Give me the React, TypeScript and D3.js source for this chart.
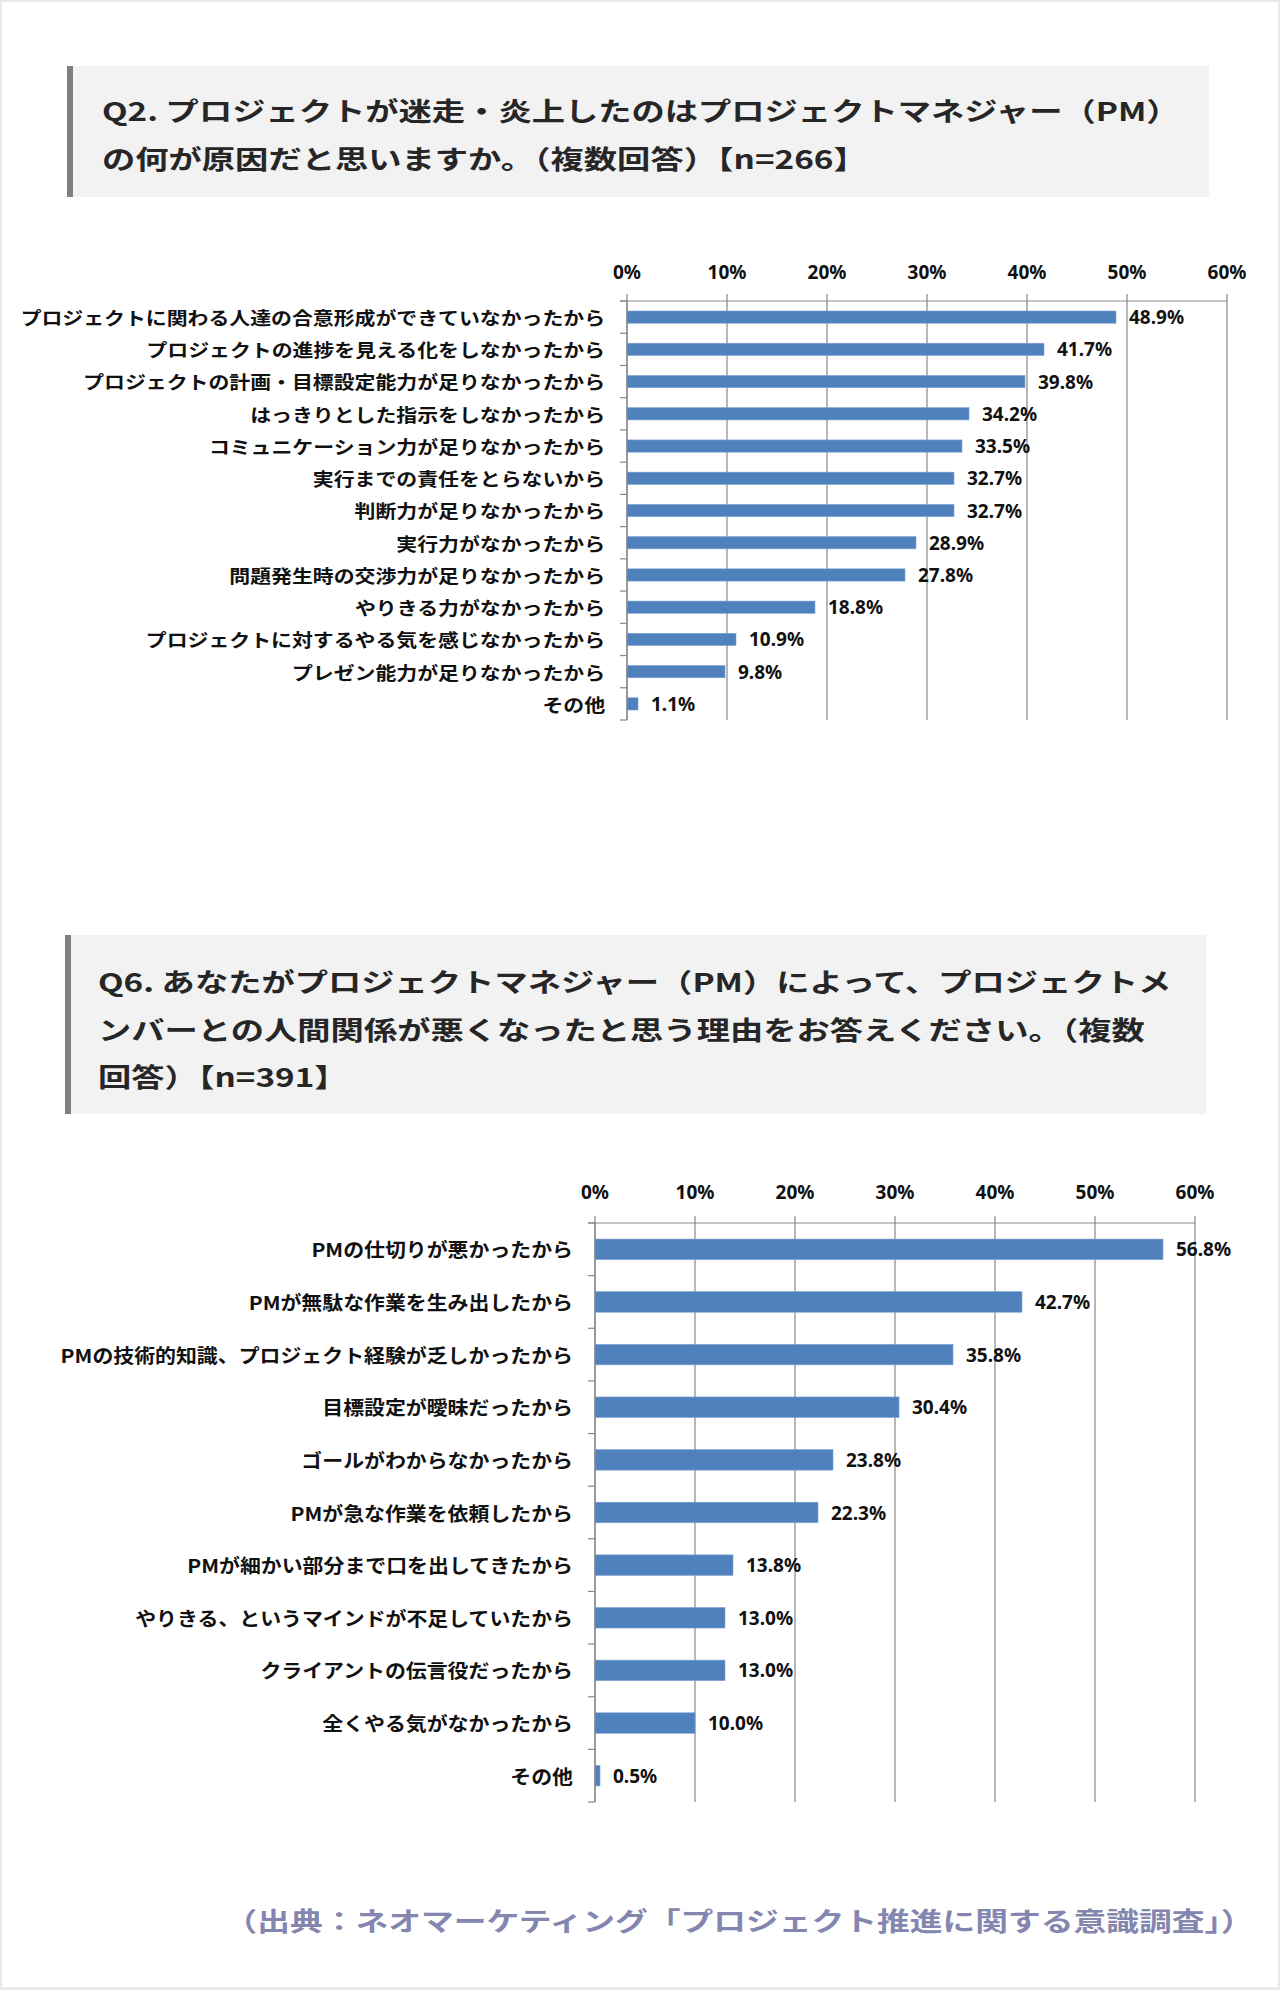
import React from "react";
import * as d3 from "d3";

const q2Title = [
  "Q2. プロジェクトが迷走・炎上したのはプロジェクトマネジャー（PM）",
  "の何が原因だと思いますか。（複数回答）【n=266】",
];
const q2Categories = [
  "プロジェクトに関わる人達の合意形成ができていなかったから",
  "プロジェクトの進捗を見える化をしなかったから",
  "プロジェクトの計画・目標設定能力が足りなかったから",
  "はっきりとした指示をしなかったから",
  "コミュニケーション力が足りなかったから",
  "実行までの責任をとらないから",
  "判断力が足りなかったから",
  "実行力がなかったから",
  "問題発生時の交渉力が足りなかったから",
  "やりきる力がなかったから",
  "プロジェクトに対するやる気を感じなかったから",
  "プレゼン能力が足りなかったから",
  "その他",
];
const q2Values = [48.9, 41.7, 39.8, 34.2, 33.5, 32.7, 32.7, 28.9, 27.8, 18.8, 10.9, 9.8, 1.1];

const q6Title = [
  "Q6. あなたがプロジェクトマネジャー（PM）によって、プロジェクトメ",
  "ンバーとの人間関係が悪くなったと思う理由をお答えください。（複数",
  "回答）【n=391】",
];
const q6Categories = [
  "PMの仕切りが悪かったから",
  "PMが無駄な作業を生み出したから",
  "PMの技術的知識、プロジェクト経験が乏しかったから",
  "目標設定が曖昧だったから",
  "ゴールがわからなかったから",
  "PMが急な作業を依頼したから",
  "PMが細かい部分まで口を出してきたから",
  "やりきる、というマインドが不足していたから",
  "クライアントの伝言役だったから",
  "全くやる気がなかったから",
  "その他",
];
const q6Values = [56.8, 42.7, 35.8, 30.4, 23.8, 22.3, 13.8, 13.0, 13.0, 10.0, 0.5];

const tickValues = [0, 10, 20, 30, 40, 50, 60];
const sourceText = "（出典：ネオマーケティング「プロジェクト推進に関する意識調査」）";

const JP = "'Noto Sans CJK JP', 'Noto Sans', sans-serif";
const NUM = "'Noto Sans', 'Open Sans', sans-serif";
const GRID = "#878787";
const BAR = "#4f81bd";

type ChartProps = {
  cats: string[];
  vals: number[];
  x0: number;
  x1: number;
  y0: number;
  y1: number;
  pad: number;
  labelSize: number;
  labelSX: number;
  numSize: number;
  tickY: number;
};

function Chart(p: ChartProps) {
  const x = d3.scaleLinear().domain([0, 60]).range([p.x0, p.x1]);
  const y = d3
    .scaleBand<string>()
    .domain(p.cats)
    .range([p.y0, p.y1])
    .paddingInner(p.pad)
    .paddingOuter(p.pad / 2);
  const step = y.step();
  const bounds = d3.range(p.cats.length + 1).map((i) => p.y0 + i * step);
  return (
    <g>
      <line x1={p.x0 - 7} x2={p.x1} y1={p.y0} y2={p.y0} stroke={GRID} strokeWidth={1.2} />
      {tickValues.map((t) => (
        <g key={t}>
          <line x1={x(t)} x2={x(t)} y1={p.y0 - 7} y2={p.y1} stroke={GRID} strokeWidth={1.2} />
          <text
            x={x(t)}
            y={p.tickY}
            textAnchor="middle"
            dominantBaseline="central"
            fontFamily={NUM}
            fontWeight={700}
            fontSize={p.numSize}
            fill="#111"
          >
            {t}%
          </text>
        </g>
      ))}
      {bounds.map((b, i) => (
        <line key={i} x1={p.x0 - 7} x2={p.x0} y1={b} y2={b} stroke={GRID} strokeWidth={1.2} />
      ))}
      {p.cats.map((c, i) => {
        const yc = (y(c) as number) + y.bandwidth() / 2;
        return (
          <g key={c}>
            <rect
              x={x(0)}
              y={y(c) as number}
              width={x(p.vals[i]) - x(0)}
              height={y.bandwidth()}
              fill={BAR}
              stroke="#7ea3d2"
              strokeWidth={0.6}
            />
            <text
              transform={`translate(${p.x0 - 22},${yc}) scale(${p.labelSX},1)`}
              textAnchor="end"
              dominantBaseline="central"
              fontFamily={JP}
              fontWeight={700}
              fontSize={p.labelSize}
              fill="#111"
            >
              {c}
            </text>
            <text
              x={x(p.vals[i]) + 13}
              y={yc}
              dominantBaseline="central"
              fontFamily={NUM}
              fontWeight={700}
              fontSize={p.numSize}
              fill="#111"
            >
              {p.vals[i].toFixed(1)}%
            </text>
          </g>
        );
      })}
      <line x1={p.x0} x2={p.x0} y1={p.y0} y2={p.y1} stroke={GRID} strokeWidth={1.2} />
    </g>
  );
}

function TitleBox({
  lines,
  x,
  y,
  w,
  h,
  textX,
  firstY,
  lineH,
}: {
  lines: string[];
  x: number;
  y: number;
  w: number;
  h: number;
  textX: number;
  firstY: number;
  lineH: number;
}) {
  return (
    <g>
      <rect x={x} y={y} width={w} height={h} fill="#f2f2f2" />
      <rect x={x} y={y} width={6} height={h} fill="#7f7f7f" />
      {lines.map((l, i) => (
        <text
          key={i}
          transform={`translate(${textX},${firstY + i * lineH}) scale(1.28,1)`}
          dominantBaseline="central"
          fontFamily={JP}
          fontWeight={700}
          fontSize={26}
          fill="#262626"
        >
          {l}
        </text>
      ))}
    </g>
  );
}

export default function App() {
  return (
    <div style={{ position: "absolute", left: 0, top: 0, width: 1280, height: 1990 }}>
      <svg width={1280} height={1990} style={{ display: "block" }}>
        <rect x={0} y={0} width={1280} height={1990} fill="#e9e9e9" />
        <rect x={2} y={2} width={1276} height={1985} fill="#ffffff" />
        <TitleBox lines={q2Title} x={67} y={66} w={1142} h={131} textX={102} firstY={110} lineH={48} />
        <Chart
          cats={q2Categories}
          vals={q2Values}
          x0={627}
          x1={1227}
          y0={301}
          y1={720}
          pad={0.62}
          labelSize={18}
          labelSX={1.16}
          numSize={19}
          tickY={272}
        />
        <TitleBox lines={q6Title} x={65} y={935} w={1141} h={179} textX={98} firstY={981} lineH={47.5} />
        <Chart
          cats={q6Categories}
          vals={q6Values}
          x0={595}
          x1={1195}
          y0={1223}
          y1={1802}
          pad={0.61}
          labelSize={19}
          labelSX={1.1}
          numSize={19}
          tickY={1192}
        />
        <text
          transform={`translate(${241 - 13 * 1.26},1920) scale(1.26,1)`}
          dominantBaseline="central"
          fontFamily={JP}
          fontWeight={700}
          fontSize={26}
          fill="#8486b0"
        >
          {sourceText}
        </text>
      </svg>
    </div>
  );
}
